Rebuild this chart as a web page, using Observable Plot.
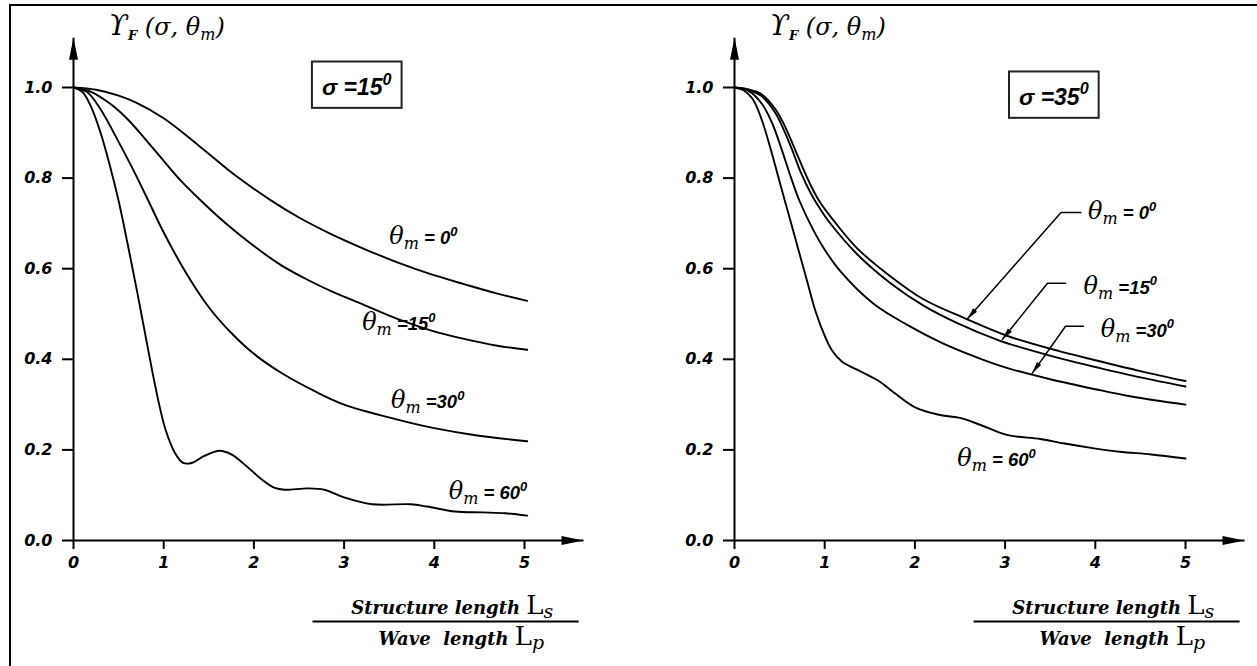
<!DOCTYPE html>
<html><head><meta charset="utf-8">
<script src="https://cdn.jsdelivr.net/npm/d3@7"></script>
<script src="https://cdn.jsdelivr.net/npm/@observablehq/plot@0.6"></script>
<style>
html,body{margin:0;padding:0;background:#fff;}
#wrap{position:relative;width:1257px;height:666px;overflow:hidden;background:#fff;}
#frame{position:absolute;left:9px;top:4px;width:1300px;height:700px;border-top:2.5px solid #000;border-left:2.5px solid #000;}
#left{position:absolute;left:0;top:0;width:628px;height:666px;}
#right{position:absolute;left:628px;top:0;width:629px;height:666px;}
</style></head><body>
<div id="wrap"><div id="frame"></div><div id="left"></div><div id="right"></div></div>
<script>
// ---------- data ----------
const xTicks = [0, 1, 2, 3, 4, 5];
const yTicks = [0, 0.2, 0.4, 0.6, 0.8, 1.0];
const titleText = "ϒ_F (σ, θ_m)";
const xNumerator = "Structure length L_s";
const xDenominator = "Wave  length L_p";
const sigmaText15 = "σ =15^0";
const sigmaText35 = "σ =35^0";
const seriesNames = ["θm=0", "θm=15", "θm=30", "θm=60"];
const labels15 = ["θ_m = 0^0", "θ_m =15^0", "θ_m =30^0", "θ_m = 60^0"];
const labels35 = ["θ_m = 0^0", "θ_m =15^0", "θ_m =30^0", "θ_m = 60^0"];

// sigma = 15 deg
const s15_t0 = [[0,1],[0.25,0.995],[0.5,0.982],[0.7,0.966],[1.0,0.932],[1.4,0.87],[1.8,0.805],[2.18,0.752],[2.5,0.713],[2.85,0.677],[3.22,0.644],[3.59,0.614],[3.96,0.588],[4.33,0.566],[4.7,0.545],[5.03,0.529]];
const s15_t15 = [[0,1],[0.2,0.99],[0.4,0.965],[0.6,0.93],[0.8,0.885],[1.0,0.838],[1.2,0.792],[1.44,0.745],[1.7,0.698],[2.0,0.65],[2.3,0.608],[2.6,0.575],[2.85,0.551],[3.22,0.52],[3.59,0.489],[3.96,0.464],[4.33,0.445],[4.7,0.43],[5.03,0.421]];
const s15_t30 = [[0,1],[0.15,0.99],[0.3,0.952],[0.5,0.88],[0.65,0.823],[0.83,0.75],[1.0,0.68],[1.25,0.59],[1.5,0.515],[1.75,0.458],[2.0,0.412],[2.32,0.368],[2.69,0.328],[3.0,0.30],[3.57,0.268],[4.0,0.248],[4.44,0.233],[5.03,0.219]];
const s15_t60 = [[0,1],[0.1,0.99],[0.2,0.955],[0.3,0.9],[0.4,0.83],[0.5,0.75],[0.6,0.655],[0.7,0.555],[0.8,0.45],[0.877,0.37],[0.95,0.30],[1.02,0.245],[1.12,0.195],[1.21,0.172],[1.31,0.171],[1.445,0.186],[1.62,0.198],[1.75,0.19],[1.93,0.162],[2.08,0.136],[2.23,0.116],[2.34,0.112],[2.6,0.115],[2.78,0.112],[3.0,0.095],[3.31,0.080],[3.74,0.080],[3.92,0.075],[4.23,0.064],[4.53,0.062],[4.79,0.060],[5.03,0.055]];

// sigma = 35 deg
const s35_t0 = [[0,1],[0.15,0.996],[0.3,0.985],[0.45,0.953],[0.55,0.918],[0.65,0.873],[0.75,0.826],[0.85,0.782],[0.95,0.746],[1.1,0.706],[1.36,0.645],[1.73,0.583],[2.1,0.532],[2.56,0.49],[3.02,0.452],[3.6,0.418],[4.0,0.398],[4.5,0.374],[5.0,0.352]];
const s35_t15 = [[0,1],[0.15,0.995],[0.3,0.981],[0.45,0.945],[0.55,0.905],[0.65,0.857],[0.73,0.815],[0.85,0.765],[0.95,0.732],[1.05,0.703],[1.36,0.632],[1.73,0.568],[2.1,0.518],[2.47,0.48],[2.93,0.442],[3.32,0.418],[3.61,0.402],[4.0,0.383],[4.5,0.36],[5.0,0.34]];
const s35_t30 = [[0,1],[0.15,0.993],[0.3,0.965],[0.42,0.92],[0.52,0.865],[0.62,0.805],[0.72,0.75],[0.88,0.683],[1.0,0.642],[1.175,0.594],[1.545,0.522],[1.915,0.476],[2.28,0.438],[2.65,0.407],[3.0,0.382],[3.5,0.356],[4.0,0.334],[4.4,0.318],[5.0,0.30]];
const s35_t60 = [[0,1],[0.1,0.994],[0.2,0.975],[0.3,0.93],[0.4,0.865],[0.5,0.792],[0.6,0.72],[0.7,0.648],[0.8,0.576],[0.9,0.505],[1.0,0.452],[1.08,0.42],[1.19,0.395],[1.4,0.373],[1.6,0.352],[1.77,0.326],[2.02,0.292],[2.28,0.277],[2.51,0.270],[2.73,0.255],[3.02,0.233],[3.39,0.224],[3.66,0.214],[3.97,0.204],[4.27,0.196],[4.62,0.19],[5.0,0.181]];

// ---------- annotation anchors (data units) ----------
const labelAt15 = [[3.50,0.668],[3.20,0.478],[3.52,0.305],[4.16,0.104]];
const labelAt35 = [[3.92,0.722],[3.87,0.558],[4.06,0.463],[2.47,0.177]];
const leaders35 = [
  [[2.58,0.489],[3.62,0.724],[3.84,0.724]],
  [[2.97,0.444],[3.47,0.568],[3.67,0.568]],
  [[3.30,0.369],[3.67,0.473],[3.87,0.473]]
];
const titleAt = [0.39, 1.133];
const sigmaAt15 = [3.14, 1.0];
const sigmaAt35 = [3.54, 0.978];
const numAt = [4.20, -0.150], denAt = [4.30, -0.217];
const fracLine = {y: -0.179, x1: 2.65, x2: 5.60};
const yTip = 1.11, xTip = 5.654;

// ---------- layout ----------
const H = 666, Y_TOP = 87, Y_BOT = 540;

const bigHead = {draw(ctx){ ctx.moveTo(0,0); ctx.lineTo(-4.5,22); ctx.lineTo(4.5,22); ctx.closePath(); }};
const smallHead = {draw(ctx){ ctx.moveTo(0,0); ctx.lineTo(-2.6,12); ctx.lineTo(2.6,12); ctx.closePath(); }};

function panel(o){
  const sx = d3.scaleLinear([0,5],[o.ml, o.width - o.mr]);
  const sy = d3.scaleLinear([0,1],[Y_BOT, Y_TOP]);
  const rows = o.series.flatMap((pts,i)=>pts.map(([x,y])=>({x,y,s:seriesNames[i]})));
  const labs = o.labels.map((t,i)=>({x:o.labelAt[i][0], y:o.labelAt[i][1], t}));
  const leadRows = o.leaders.flatMap((pts,i)=>pts.map(([x,y])=>({x,y,id:i})));
  const tips = o.leaders.map(pts=>{
    const [t,c] = pts;
    const dx = sx(t[0]) - sx(c[0]), dy = sy(t[1]) - sy(c[1]);
    return {x:t[0], y:t[1], a: Math.atan2(dx, -dy)*180/Math.PI};
  });
  const axisLines = [{x1:0,y1:0,x2:0,y2:yTip},{x1:0,y1:0,x2:xTip,y2:0}];
  const axisHeads = [{x:0,y:yTip,a:0},{x:xTip,y:0,a:90}];
  const tickFont = {fontFamily:"DejaVu Sans", fontWeight:"bold", fontStyle:"italic", fontSize:16};
  return Plot.plot({
    width:o.width, height:H,
    marginLeft:o.ml, marginRight:o.mr, marginTop:Y_TOP, marginBottom:H-Y_BOT,
    x:{domain:[0,5]}, y:{domain:[0,1]},
    style:{background:"transparent", overflow:"visible", fontFamily:"DejaVu Sans", fontSize:"16px", fontWeight:"bold", fontStyle:"italic", color:"#000"},
    marks:[
      Plot.axisX({ticks:xTicks, tickSize:9, tickPadding:7, tickFormat:d=>String(d), label:null, strokeWidth:2, ...tickFont}),
      Plot.axisY({ticks:yTicks, tickSize:11, tickPadding:10, tickFormat:d3.format(".1f"), label:null, strokeWidth:2, ...tickFont}),
      Plot.link(axisLines, {x1:"x1",y1:"y1",x2:"x2",y2:"y2", stroke:"#000", strokeWidth:2}),
      Plot.dot(axisHeads, {x:"x",y:"y",rotate:"a",symbol:bigHead,fill:"#000",stroke:null}),
      Plot.line(rows, {x:"x",y:"y",z:"s",curve:"catmull-rom",stroke:"#000",strokeWidth:1.9}),
      Plot.line(leadRows, {x:"x",y:"y",z:"id",stroke:"#000",strokeWidth:1.5}),
      Plot.dot(tips, {x:"x",y:"y",rotate:"a",symbol:smallHead,fill:"#000",stroke:null}),
      Plot.text(labs, {x:"x",y:"y",text:"t",textAnchor:"start",fontFamily:"Liberation Sans",fontWeight:"bold",fontStyle:"italic",fontSize:18.5,fill:"#000"}),
      Plot.text([{x:titleAt[0],y:titleAt[1],t:titleText}], {x:"x",y:"y",text:"t",textAnchor:"start",fontFamily:"DejaVu Serif",fontWeight:"normal",fontStyle:"italic",fontSize:24,fill:"#000"}),
      Plot.text([{x:o.sigmaAt[0],y:o.sigmaAt[1],t:o.sigma}], {x:"x",y:"y",text:"t",textAnchor:"middle",fontFamily:"Liberation Sans",fontWeight:"bold",fontStyle:"italic",fontSize:23,fill:"#000"}),
      Plot.text([{x:numAt[0],y:numAt[1],t:xNumerator}], {x:"x",y:"y",text:"t",textAnchor:"middle",fontFamily:"DejaVu Serif",fontWeight:"bold",fontStyle:"italic",fontSize:18,fill:"#000"}),
      Plot.text([{x:denAt[0],y:denAt[1],t:xDenominator}], {x:"x",y:"y",text:"t",textAnchor:"middle",fontFamily:"DejaVu Serif",fontWeight:"bold",fontStyle:"italic",fontSize:18,fill:"#000",letterSpacing:1}),
      Plot.link([fracLine], {x1:"x1",x2:"x2",y1:"y",y2:"y",stroke:"#000",strokeWidth:2})
    ]
  });
}

// ---------- rich text (sub/superscripts) ----------
const NS = "http://www.w3.org/2000/svg";
const HEAD = {
  "θ": {family:"DejaVu Serif", style:"italic", size:24, sub:16, subDy:5, subWeight:"normal"},
  "ϒ": {family:"DejaVu Serif", style:"italic", size:28, sub:13, subDy:5, subWeight:"bold"},
  "L": {family:"DejaVu Serif", style:"normal", size:26, sub:19, subDy:4, subWeight:"normal"}
};
function rich(el){
  const s = el.textContent;
  if (!/[_^]/.test(s)) return;
  el.setAttribute("data-src", s);
  const base = parseFloat(getComputedStyle(el).fontSize) || 16;
  el.textContent = "";
  let pend = 0, buf = "";
  const add = (t, attrs) => {
    const ts = document.createElementNS(NS, "tspan");
    ts.textContent = t;
    if (pend) { ts.setAttribute("dy", pend); pend = 0; }
    for (const k in attrs) if (attrs[k] != null) ts.setAttribute(k, attrs[k]);
    el.appendChild(ts);
  };
  const flush = () => { if (buf) { add(buf, {}); buf = ""; } };
  for (let i = 0; i < s.length;) {
    const c = s[i];
    if (s[i+1] === "_") {
      flush();
      const h = HEAD[c] || {family:null, style:"italic", size:base*1.2, sub:base*0.8, subDy:base*0.25, subWeight:"normal"};
      add(c, {"font-family":h.family, "font-style":h.style, "font-weight":"normal", "font-size":h.size});
      pend += h.subDy;
      add(s[i+2], {"font-family":h.family, "font-style":"italic", "font-weight":h.subWeight, "font-size":h.sub});
      pend = -h.subDy;
      i += 3; continue;
    }
    if (c === "^") {
      flush();
      const d = base*0.45;
      pend -= d;
      add(s[i+1], {"font-size": base*0.7});
      pend = d;
      i += 2; continue;
    }
    buf += c; i++;
  }
  flush();
}
function post(svg){
  svg.querySelectorAll("text").forEach(rich);
  svg.querySelectorAll("text[data-src]").forEach(el=>{
    if (!el.getAttribute("data-src").startsWith("σ")) return;
    const bb = el.getBBox();
    const r = document.createElementNS(NS, "rect");
    r.setAttribute("x", bb.x - 10); r.setAttribute("y", bb.y - 8);
    r.setAttribute("width", bb.width + 20); r.setAttribute("height", bb.height + 16);
    r.setAttribute("fill", "none"); r.setAttribute("stroke", "#222"); r.setAttribute("stroke-width", 2);
    if (el.getAttribute("transform")) r.setAttribute("transform", el.getAttribute("transform"));
    el.parentNode.insertBefore(r, el);
  });
}

const left = panel({width:628, ml:73, mr:104, series:[s15_t0,s15_t15,s15_t30,s15_t60], labels:labels15, labelAt:labelAt15, leaders:[], sigma:sigmaText15, sigmaAt:sigmaAt15});
const right = panel({width:629, ml:106, mr:72, series:[s35_t0,s35_t15,s35_t30,s35_t60], labels:labels35, labelAt:labelAt35, leaders:leaders35, sigma:sigmaText35, sigmaAt:sigmaAt35});
document.getElementById("left").appendChild(left);
document.getElementById("right").appendChild(right);
post(left); post(right);
</script>
</body></html>
